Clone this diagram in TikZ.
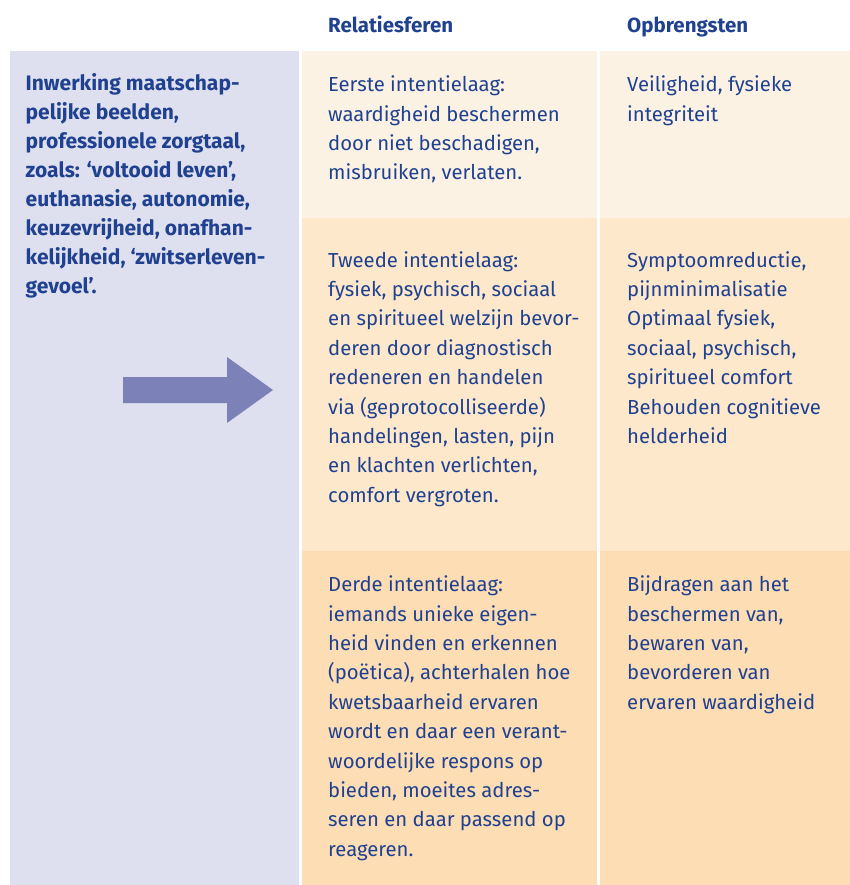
\documentclass[tikz,border=0pt]{standalone}
\usepackage{fontspec}
\setmainfont{Fira Sans}
\definecolor{txtblue}{HTML}{1F4190}
\definecolor{lavender}{HTML}{DEE0EF}
\definecolor{creamA}{HTML}{FCF2E3}
\definecolor{creamB}{HTML}{FDE8CB}
\definecolor{creamC}{HTML}{FDDDB4}
\definecolor{arrowblue}{HTML}{7C82B7}

\begin{document}
\begin{tikzpicture}[x=1pt, y=-1pt,
	celltext/.style={anchor=north west, inner sep=0pt, align=left, text=txtblue,
		font=\fontsize{20.3}{29.4}\selectfont, execute at begin node=\strut},
	lefttext/.style={celltext, font=\fontsize{21}{29}\selectfont\bfseries},
	headtext/.style={anchor=base west, inner sep=0pt, text=txtblue,
		font=\fontsize{20.5}{24}\selectfont\bfseries}]
	\useasboundingbox (0,0) rectangle (850,885);
	% panels
	\fill[lavender] (10,51) rectangle (299,885);
	\fill[creamA] (302,51) rectangle (597,218);
	\fill[creamA] (600,51) rectangle (850,218);
	\fill[creamB] (302,218) rectangle (597,551);
	\fill[creamB] (600,218) rectangle (850,551);
	\fill[creamC] (302,551) rectangle (597,885);
	\fill[creamC] (600,551) rectangle (850,885);
	% arrow
	\fill[arrowblue] (123,377) -- (227,377) -- (227,357) -- (273,390)
		-- (227,423) -- (227,403) -- (123,403) -- cycle;
	% headers
	\node[headtext] (hrel) at (328,33) {Relatiesferen};
	\node[headtext] (hopb) at (627,33) {Opbrengsten};
	% left column
	\node[lefttext] (beelden) at (25.5,73) {Inwerking maatschap-\\pelijke beelden,\\professionele zorgtaal,\\zoals: ‘voltooid leven’,\\euthanasie, autonomie,\\keuzevrijheid, onafhan-\\kelijkheid, ‘zwitserleven-\\gevoel’.};
	% first layer
	\node[celltext] (laag1) at (328,75.6) {Eerste intentielaag:\\waardigheid beschermen\\door niet beschadigen,\\misbruiken, verlaten.};
	\node[celltext] (opbr1) at (627,75.6) {Veiligheid, fysieke\\integriteit};
	% second layer
	\node[celltext] (laag2) at (328,251) {Tweede intentielaag:\\fysiek, psychisch, sociaal\\en spiritueel welzijn bevor-\\deren door diagnostisch\\redeneren en handelen\\via (geprotocolliseerde)\\handelingen, lasten, pijn\\en klachten verlichten,\\comfort vergroten.};
	\node[celltext] (opbr2) at (627,251) {Symptoomreductie,\\pijnminimalisatie\\Optimaal fysiek,\\sociaal, psychisch,\\spiritueel comfort\\Behouden cognitieve\\helderheid};
	% third layer
	\node[celltext] (laag3) at (328,575.6) {Derde intentielaag:\\iemands unieke eigen-\\heid vinden en erkennen\\(poëtica), achterhalen hoe\\kwetsbaarheid ervaren\\wordt en daar een verant-\\woordelijke respons op\\bieden, moeites adres-\\seren en daar passend op\\reageren.};
	\node[celltext] (opbr3) at (627,575.6) {Bijdragen aan het\\beschermen van,\\bewaren van,\\bevorderen van\\ervaren waardigheid};
\end{tikzpicture}
\end{document}
